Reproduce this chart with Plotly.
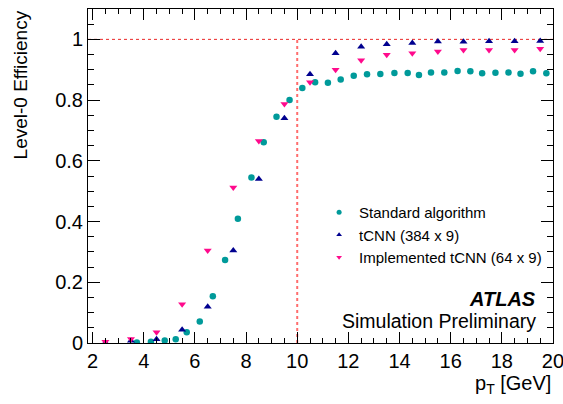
import plotly.graph_objects as go

# ---- data ----
std_pt = [3.73, 4.28, 4.82, 5.25, 5.68, 6.19, 6.70, 7.18, 7.68, 8.21, 8.69, 9.19, 9.70,
          10.20, 10.70, 11.20, 11.70, 12.21, 12.73, 13.25, 13.80, 14.32, 14.76, 15.23,
          15.75, 16.27, 16.77, 17.23, 17.75, 18.26, 18.73, 19.22, 19.74]
std_eff = [0.002, 0.004, 0.008, 0.0125, 0.035, 0.071, 0.154, 0.273, 0.409, 0.545, 0.661,
           0.745, 0.800, 0.840, 0.859, 0.857, 0.868, 0.880, 0.885, 0.886, 0.889, 0.889,
           0.883, 0.891, 0.891, 0.896, 0.895, 0.888, 0.890, 0.891, 0.887, 0.895, 0.888]

cnn_pt = [2.5, 3.5, 4.5, 5.5, 6.5, 7.5, 8.5, 9.5, 10.5, 11.5, 12.5, 13.5, 14.5, 15.5,
          16.5, 17.5, 18.5, 19.5]
cnn384_eff = [0.001, 0.007, 0.0125, 0.044, 0.119, 0.305, 0.540, 0.740, 0.885, 0.954,
              0.976, 0.984, 0.988, 0.993, 0.992, 0.994, 0.994, 0.995]
cnn64_eff = [0.004, 0.0135, 0.035, 0.128, 0.305, 0.512, 0.665, 0.787, 0.859, 0.900,
             0.931, 0.949, 0.954, 0.960, 0.965, 0.965, 0.965, 0.969]

series_names = ["Standard algorithm", "tCNN (384 x 9)", "Implemented tCNN (64 x 9)"]
x_tick_vals = [2, 4, 6, 8, 10, 12, 14, 16, 18, 20]
threshold_pt = [10]
reference_eff = [1]

x_range = [1.82, 20.0005]
y_range = [0, 1.1]

FONT = "Liberation Sans, Arial, Helvetica, sans-serif"
TEAL = "#009a9a"
NAVY = "#00008f"
PINK = "#ff0a8c"

fig = go.Figure()

# reference lines
fig.add_shape(type="line", xref="x", yref="y", x0=x_range[0], x1=x_range[1],
              y0=reference_eff[0], y1=reference_eff[0],
              line=dict(color="rgba(230,0,0,0.85)", width=1, dash="3px,3px"), layer="below")
fig.add_shape(type="line", xref="x", yref="y", x0=threshold_pt[0], x1=threshold_pt[0],
              y0=0, y1=reference_eff[0],
              line=dict(color="rgba(255,60,60,0.75)", width=2, dash="3px,3px"), layer="below")

fig.add_trace(go.Scatter(x=std_pt, y=std_eff, mode="markers", showlegend=False,
                         marker=dict(symbol="circle", size=6.5, color=TEAL)))
fig.add_trace(go.Scatter(x=cnn_pt, y=cnn384_eff, mode="markers", showlegend=False,
                         marker=dict(symbol="triangle-up", size=7, color=NAVY)))
fig.add_trace(go.Scatter(x=cnn_pt, y=cnn64_eff, mode="markers", showlegend=False,
                         marker=dict(symbol="triangle-down", size=7, color=PINK)))

# legend entries (smaller markers, as in the reference legend)
for name, sym, col in zip(series_names, ["circle", "triangle-up", "triangle-down"],
                          [TEAL, NAVY, PINK]):
    fig.add_trace(go.Scatter(x=[None], y=[None], mode="markers", name=name,
                             marker=dict(symbol=sym, size=5, color=col)))

axis_common = dict(showline=True, linecolor="black", linewidth=1, mirror="allticks",
                   ticks="inside", tickcolor="black", tickwidth=1, showgrid=False,
                   zeroline=False, automargin=False,
                   tickfont=dict(family=FONT, size=20, color="black"))

fig.update_xaxes(range=x_range, tickmode="array", tickvals=x_tick_vals,
                 ticktext=[str(v) for v in x_tick_vals], ticklen=11,
                 ticklabeloverflow="allow",
                 minor=dict(ticks="inside", dtick=0.5, tick0=2, ticklen=5,
                            tickcolor="black", showgrid=False),
                 **axis_common)
fig.update_yaxes(range=y_range, tick0=0, dtick=0.2, ticklen=12,
                 minor=dict(ticks="inside", dtick=0.05, tick0=0, ticklen=6,
                            tickcolor="black", showgrid=False),
                 **axis_common)

fig.add_annotation(text="p<sub>T</sub> [GeV]", xref="paper", yref="paper",
                   x=1.0, y=-0.125, xanchor="right", yanchor="middle", showarrow=False,
                   font=dict(family=FONT, size=20, color="black"))
fig.add_annotation(text="Level-0 Efficiency", xref="paper", yref="paper",
                   x=-0.145, y=1.002, xanchor="center", yanchor="top", textangle=-90,
                   showarrow=False, font=dict(family=FONT, size=19, color="black"))
fig.add_annotation(text="<b><i>ATLAS</i></b>", xref="paper", yref="paper",
                   x=0.968, y=0.132, xanchor="right", yanchor="middle", showarrow=False,
                   font=dict(family=FONT, size=20, color="black"))
fig.add_annotation(text="Simulation Preliminary", xref="paper", yref="paper",
                   x=0.968, y=0.065, xanchor="right", yanchor="middle", showarrow=False,
                   font=dict(family=FONT, size=19.5, color="black"))

fig.update_layout(
    width=563, height=404,
    margin=dict(l=88, r=10, t=9, b=61, autoexpand=False),
    paper_bgcolor="white", plot_bgcolor="white",
    font=dict(family=FONT, color="black"),
    legend=dict(x=0.497, y=0.44, xanchor="left", yanchor="top",
                bgcolor="rgba(0,0,0,0)", font=dict(family=FONT, size=15, color="black"),
                tracegroupgap=0, itemsizing="trace"),
)

fig.write_html("out.html", config={"displayModeBar": False},
               post_script="document.body.style.margin='0';document.body.style.overflow='hidden';")
